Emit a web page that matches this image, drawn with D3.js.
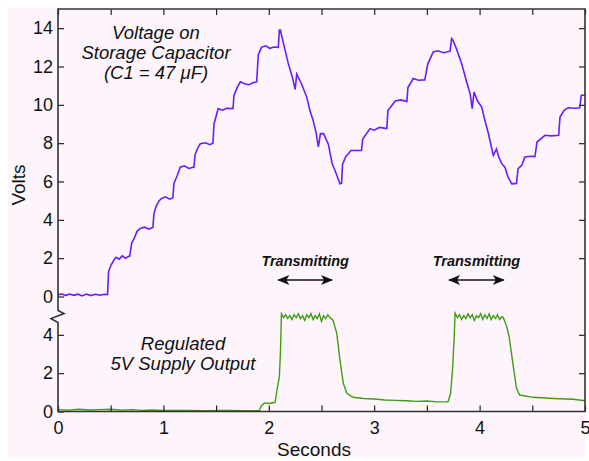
<!DOCTYPE html>
<html>
<head>
<meta charset="utf-8">
<script src="https://cdnjs.cloudflare.com/ajax/libs/d3/7.8.5/d3.min.js"></script>
<style>
  html, body { margin: 0; padding: 0; background: #ffffff; }
  svg { display: block; font-family: "Liberation Sans", Arial, Helvetica, sans-serif; }
</style>
</head>
<body>
<script>

// capacitor voltage, [seconds, volts]
var capacitorVolts = [
	[0.00,0.10],[0.04,0.13],[0.07,0.05],[0.11,0.13],[0.15,0.06],[0.19,0.12],[0.23,0.03],[0.27,0.13],[0.31,0.05],[0.35,0.12],[0.40,0.07],[0.44,0.12],[0.47,0.10],
	[0.48,1.30],[0.50,1.60],[0.53,1.90],[0.55,2.05],[0.58,1.95],[0.61,2.12],[0.64,2.00],[0.67,2.10],[0.68,2.10],
	[0.70,2.80],[0.72,3.00],[0.75,3.40],[0.78,3.55],[0.82,3.62],[0.86,3.52],[0.90,3.60],
	[0.91,4.30],[0.93,4.70],[0.96,5.00],[0.98,5.10],[1.02,5.20],[1.06,5.08],[1.09,5.15],
	[1.10,5.90],[1.13,6.30],[1.16,6.75],[1.20,6.82],[1.24,6.68],[1.29,6.75],
	[1.30,7.40],[1.33,7.80],[1.35,7.97],[1.40,8.02],[1.44,7.92],[1.47,8.00],
	[1.48,9.00],[1.50,9.40],[1.52,9.80],[1.56,9.72],[1.60,9.82],[1.66,9.80],
	[1.67,10.50],[1.70,10.90],[1.73,11.20],[1.77,11.10],[1.81,11.05],[1.85,11.15],[1.885,11.20],
	[1.90,12.60],[1.93,13.00],[1.97,13.08],[2.01,12.95],[2.05,13.02],[2.09,13.00],
	[2.10,13.90],[2.11,13.90],[2.135,13.30],[2.185,12.15],[2.223,11.45],[2.25,10.80],[2.265,11.60],[2.31,11.10],[2.36,10.40],[2.39,9.70],[2.42,9.20],[2.45,8.50],[2.47,7.80],[2.49,8.50],[2.52,8.50],[2.565,7.95],[2.60,6.95],[2.63,6.55],[2.66,6.10],[2.675,5.88],[2.69,5.90],
	[2.70,6.90],[2.73,7.30],[2.755,7.45],[2.78,7.62],[2.88,7.62],
	[2.89,8.20],[2.96,8.76],[3.00,8.68],[3.05,8.82],[3.12,8.76],
	[3.13,9.70],[3.20,10.20],[3.25,10.26],[3.31,10.18],
	[3.32,10.90],[3.37,11.37],[3.42,11.28],[3.48,11.30],
	[3.50,11.90],[3.51,12.15],[3.56,12.76],[3.60,12.82],[3.66,12.72],[3.72,12.80],
	[3.735,13.46],[3.745,13.40],[3.78,12.93],[3.83,12.15],[3.877,11.19],[3.91,10.58],[3.93,9.80],[3.947,10.67],[3.98,10.20],[4.02,9.88],[4.05,9.19],[4.08,8.58],[4.105,7.97],[4.13,7.36],[4.16,7.70],[4.18,7.30],[4.21,6.93],[4.24,6.75],[4.27,6.23],[4.305,5.88],[4.35,5.90],
	[4.365,6.67],[4.40,6.84],[4.43,7.28],[4.48,7.32],[4.525,7.30],
	[4.545,8.06],[4.62,8.41],[4.68,8.38],[4.75,8.41],
	[4.763,9.36],[4.80,9.70],[4.84,9.85],[4.90,9.82],[4.95,9.85],
	[4.965,10.50],[5.00,10.50]
];

// regulated 5V supply output, [seconds, volts]
var supplyVolts = [
	[0.00,0.10],[0.10,0.07],[0.20,0.12],[0.30,0.08],[0.40,0.10],[0.50,0.12],[0.60,0.07],[0.70,0.10],[0.80,0.06],[0.90,0.08],[1.00,0.05],[1.20,0.06],[1.40,0.04],[1.60,0.05],[1.80,0.04],[1.91,0.05],
	[1.93,0.30],[1.96,0.45],[2.00,0.42],[2.06,0.48],
	[2.08,1.20],[2.10,1.80],[2.11,3.00],[2.12,5.10],[2.14,4.90],[2.16,5.05],[2.18,4.85],[2.20,5.00],[2.22,4.80],[2.24,5.05],[2.26,4.90],[2.28,5.10],[2.30,4.85],[2.32,5.00],[2.34,4.75],[2.36,5.05],[2.38,4.90],[2.40,5.10],[2.42,4.80],[2.44,5.00],[2.46,4.85],[2.48,5.10],[2.50,4.70],[2.52,5.00],[2.54,4.85],[2.56,5.05],[2.58,4.90],
	[2.61,4.75],[2.645,4.08],[2.675,2.69],[2.707,1.47],[2.74,0.95],[2.80,0.74],[2.90,0.68],[3.00,0.65],[3.10,0.60],[3.20,0.58],[3.31,0.56],[3.40,0.53],[3.50,0.55],[3.60,0.50],[3.70,0.50],
	[3.725,0.95],[3.745,2.34],[3.76,4.00],[3.767,5.13],[3.79,4.90],[3.81,5.05],[3.83,4.80],[3.85,5.00],[3.87,4.85],[3.89,5.10],[3.91,4.90],[3.93,5.05],[3.95,4.75],[3.97,5.00],[3.99,4.90],[4.01,5.10],[4.03,4.80],[4.05,5.05],[4.07,4.85],[4.09,5.10],[4.11,4.80],[4.13,5.00],[4.15,4.85],[4.17,5.05],[4.19,4.80],[4.21,4.95],[4.225,4.90],
	[4.257,4.43],[4.28,3.90],[4.32,2.34],[4.35,1.21],[4.38,0.86],[4.51,0.74],[4.70,0.68],[4.89,0.64],[5.00,0.56]
];

var upperTicks  = [0, 2, 4, 6, 8, 10, 12, 14];
var lowerTicks  = [0, 2, 4];
var secondTicks = [0, 0.5, 1, 1.5, 2, 2.5, 3, 3.5, 4, 4.5, 5];

var transmitWindows = [[2.09, 2.60], [3.71, 4.23]];

var width  = 589;
var height = 461;
var lowerOffset = 6; // the supply trace is drawn 6 V below the capacitor's zero

var x = d3.scaleLinear().domain([0, 5]).range([58, 585]);
var y = d3.scaleLinear().domain([-lowerOffset, 15]).range([411.5, 9]);

var svg = d3.select("body").append("svg")
	.attr("width",  width)
	.attr("height", height);

svg.append("rect")
	.attr("x", 8).attr("y", 8)
	.attr("width", 577).attr("height", 450)
	.attr("fill", "#fdf5fb");

var defs = svg.append("defs");
defs.append("marker")
	.attr("id", "head")
	.attr("viewBox", "0 0 12 10")
	.attr("refX", 11).attr("refY", 5)
	.attr("markerWidth", 13).attr("markerHeight", 10)
	.attr("markerUnits", "userSpaceOnUse")
	.attr("orient", "auto-start-reverse")
  .append("path")
	.attr("d", "M0,0 L12,5 L0,10 L3,5 Z")
	.attr("fill", "#111");

var line = d3.line()
	.x(function (d) { return x(d[0]); })
	.y(function (d) { return y(d[1]); });

var lowerLine = d3.line()
	.x(function (d) { return x(d[0]); })
	.y(function (d) { return y(d[1] - lowerOffset); });

svg.append("path")
	.datum(capacitorVolts)
	.attr("d", line)
	.attr("fill", "none")
	.attr("stroke", "#6a1cff")
	.attr("stroke-width", 1.6);

svg.append("path")
	.datum(supplyVolts)
	.attr("d", lowerLine)
	.attr("fill", "none")
	.attr("stroke", "#3f9c12")
	.attr("stroke-width", 1.4);

// axes, ticks point into the plot
var tickFont = function (g) {
	g.selectAll("text")
		.attr("font-size", 18)
		.attr("font-family", "\"Liberation Sans\", Arial, sans-serif")
		.attr("fill", "#111");
	g.selectAll("line").attr("stroke", "#222").attr("stroke-width", 1.2);
	g.select(".domain").remove();
};

svg.append("g")
	.attr("transform", "translate(" + x(0) + ",0)")
	.call(d3.axisLeft(y).tickValues(upperTicks).tickSizeInner(-6).tickSizeOuter(0).tickPadding(5))
	.call(tickFont);

svg.append("g")
	.attr("transform", "translate(" + x(0) + ",0)")
	.call(d3.axisLeft(y)
		.tickValues(lowerTicks.map(function (d) { return d - lowerOffset; }))
		.tickFormat(function (d) { return d + lowerOffset; })
		.tickSizeInner(-6).tickSizeOuter(0).tickPadding(5))
	.call(tickFont);

svg.append("g")
	.attr("transform", "translate(" + x(5) + ",0)")
	.call(d3.axisRight(y)
		.tickValues(upperTicks.slice(1).concat(lowerTicks.slice(1).map(function (d) { return d - lowerOffset; })))
		.tickFormat("").tickSizeInner(-6).tickSizeOuter(0))
	.call(tickFont);

svg.append("g")
	.attr("transform", "translate(0," + y(-lowerOffset) + ")")
	.call(d3.axisBottom(x).tickValues(secondTicks)
		.tickFormat(function (d) { return Number.isInteger(d) ? d : ""; })
		.tickSizeInner(-6).tickSizeOuter(0).tickPadding(10))
	.call(tickFont);

svg.append("g")
	.attr("transform", "translate(0," + y(15) + ")")
	.call(d3.axisTop(x).tickValues(secondTicks).tickFormat("").tickSizeInner(-6).tickSizeOuter(0))
	.call(tickFont);

// frame, with the break on the left axis between the two traces
var yBreak = y(-1.1);
svg.append("path")
	.attr("d", "M" + x(0) + "," + y(15) + " L" + x(5) + "," + y(15) +
	           " L" + x(5) + "," + y(-lowerOffset) + " L" + x(0) + "," + y(-lowerOffset) +
	           " L" + x(0) + "," + (yBreak + 5) +
	           " L" + (x(0) - 7) + "," + (yBreak + 1) +
	           " L" + (x(0) + 6) + "," + (yBreak - 4) +
	           " L" + x(0) + "," + (yBreak - 7) +
	           " Z")
	.attr("fill", "none")
	.attr("stroke", "#333")
	.attr("stroke-width", 1.6);

// axis titles
svg.append("text")
	.attr("x", 314).attr("y", 456)
	.attr("text-anchor", "middle")
	.attr("font-size", 19)
	.attr("fill", "#111")
	.text("Seconds");

svg.append("text")
	.attr("transform", "translate(25,185) rotate(-90)")
	.attr("text-anchor", "middle")
	.attr("font-size", 19)
	.attr("fill", "#111")
	.text("Volts");

// trace labels
var addLabel = function (lines, cx, baseline) {
	svg.append("text")
		.attr("text-anchor", "middle")
		.attr("font-size", 18.5)
		.attr("font-style", "italic")
		.attr("fill", "#111")
		.selectAll("tspan")
		.data(lines)
		.enter().append("tspan")
		.attr("x", cx)
		.attr("y", function (d, i) { return baseline + i * 20; })
		.text(function (d) { return d; });
};
addLabel(["Voltage on", "Storage Capacitor", "(C1 = 47 \u03bcF)"], 156, 39);
addLabel(["Regulated", "5V Supply Output"], 183, 350);

// transmitting windows
var windows = svg.append("g").selectAll("g")
	.data(transmitWindows)
	.enter().append("g");

windows.append("text")
	.attr("x", function (d) { return (x(d[0]) + x(d[1])) / 2; })
	.attr("y", 266)
	.attr("text-anchor", "middle")
	.attr("font-size", 14.5)
	.attr("font-weight", "bold")
	.attr("font-style", "italic")
	.attr("fill", "#111")
	.text("Transmitting");

windows.append("line")
	.attr("x1", function (d) { return x(d[0]); })
	.attr("x2", function (d) { return x(d[1]); })
	.attr("y1", 280).attr("y2", 280)
	.attr("stroke", "#111")
	.attr("stroke-width", 1.3)
	.attr("marker-start", "url(#head)")
	.attr("marker-end", "url(#head)");

</script>
</body>
</html>
